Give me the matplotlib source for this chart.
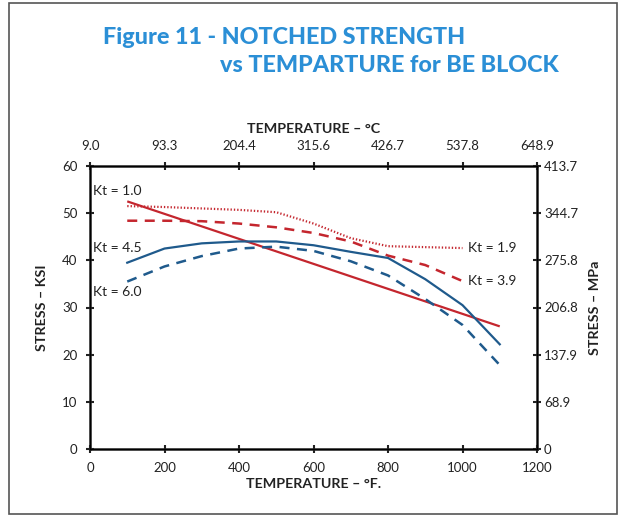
import matplotlib
matplotlib.use("Agg")
import matplotlib.pyplot as plt
from matplotlib.patches import Rectangle

# ---- data ----
temp_k10 = [100, 1100]
stress_k10 = [52.5, 26.0]

temp_k19 = [100, 200, 300, 400, 500, 600, 700, 800, 900, 1000]
stress_k19 = [51.5, 51.3, 51.0, 50.7, 50.2, 47.8, 44.7, 43.0, 42.8, 42.6]

temp_k39 = [100, 200, 300, 400, 500, 600, 700, 800, 900, 1000]
stress_k39 = [48.4, 48.4, 48.3, 47.8, 47.0, 45.8, 44.0, 41.0, 39.0, 35.6]

temp_k45 = [100, 200, 300, 400, 500, 600, 700, 800, 900, 1000, 1100]
stress_k45 = [39.5, 42.5, 43.6, 44.0, 44.0, 43.2, 41.8, 40.5, 36.0, 30.5, 22.2]

temp_k60 = [100, 200, 300, 400, 500, 600, 700, 800, 900, 1000, 1100]
stress_k60 = [35.5, 38.7, 40.9, 42.5, 42.9, 42.0, 39.8, 36.8, 31.8, 26.3, 17.8]

f_ticks = [0, 200, 400, 600, 800, 1000, 1200]
c_labels = ["9.0", "93.3", "204.4", "315.6", "426.7", "537.8", "648.9"]
ksi_ticks = [0, 10, 20, 30, 40, 50, 60]
mpa_labels = ["0", "68.9", "137.9", "206.8", "275.8", "344.7", "413.7"]

labels = [("Kt = 1.0", 8, 54.7), ("Kt = 4.5", 8, 42.6), ("Kt = 6.0", 8, 33.3),
          ("Kt = 1.9", 1015, 42.6), ("Kt = 3.9", 1015, 35.6)]

RED = "#c4262e"
BLUE = "#1f5a8c"
TITLE = "#2b8fd6"
INK = "#222222"

plt.rcParams['font.family'] = ['Lato', 'DejaVu Sans']

fig = plt.figure(figsize=(6.21, 5.16), dpi=100)
ax = fig.add_axes([90/621, 1-449/516, 447/621, 283/516])

ax.plot(temp_k10, stress_k10, color=RED, lw=1.6, solid_capstyle='butt')
ax.plot(temp_k19, stress_k19, color=RED, lw=1.6, linestyle=(0, (0.6, 0.9)))
ax.plot(temp_k39, stress_k39, color=RED, lw=1.8, linestyle=(0, (4, 3)))
ax.plot(temp_k45, stress_k45, color=BLUE, lw=1.6)
ax.plot(temp_k60, stress_k60, color=BLUE, lw=1.8, linestyle=(0, (4, 3)))

for txt, x, y in labels:
    ax.text(x, y, txt, fontsize=10, color=INK, va='center', ha='left',
            bbox=dict(facecolor='white', edgecolor='none', pad=0.5))

ax.set_xlim(0, 1200)
ax.set_ylim(0, 60)
ax.set_xticks(f_ticks)
ax.set_yticks(ksi_ticks)
ax.tick_params(axis='x', direction='inout', length=6, width=1.5, colors=INK, labelsize=9.5, pad=6)
ax.tick_params(axis='y', direction='inout', length=6, width=1.5, colors=INK, labelsize=9.5, pad=6)
for s in ax.spines.values():
    s.set_linewidth(1.8)
    s.set_color(INK)

axt = ax.twiny()
axt.set_xlim(0, 1200)
axt.set_xticks(f_ticks)
axt.set_xticklabels(c_labels)
axt.tick_params(direction='inout', length=6, width=1.5, colors=INK, labelsize=9.5, pad=7)

axr = ax.twinx()
axr.set_ylim(0, 60)
axr.set_yticks(ksi_ticks)
axr.set_yticklabels(mpa_labels)
axr.tick_params(direction='inout', length=6, width=1.5, colors=INK, labelsize=9.5, pad=2)

ax.set_xlabel("TEMPERATURE – °F.", fontsize=10.3, fontweight='bold', color=INK, labelpad=3)
axt.set_xlabel("TEMPERATURE – °C", fontsize=10.3, fontweight='bold', color=INK, labelpad=5)
ax.set_ylabel("STRESS – KSI", fontsize=10.3, fontweight='bold', color=INK, labelpad=10)
axr.set_ylabel("STRESS – MPa", fontsize=10.3, fontweight='bold', color=INK, labelpad=8)

fig.text(103/621, 1-37/516, "Figure 11 - NOTCHED STRENGTH", fontsize=16.8,
         fontweight='black', color=TITLE, ha='left', va='center')
fig.text(220/621, 1-65/516, "vs TEMPARTURE for BE BLOCK", fontsize=16.8,
         fontweight='black', color=TITLE, ha='left', va='center')

fig.patches.append(Rectangle((9/621, 2/516), 608/621, 511/516, transform=fig.transFigure,
                             fill=False, edgecolor="#555555", lw=1.2))

fig.savefig("out.png", dpi=100)
